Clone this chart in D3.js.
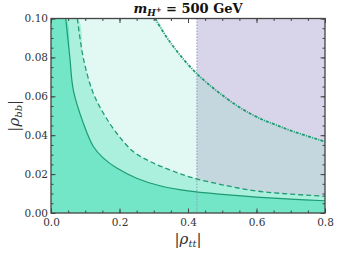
<!DOCTYPE html>
<html><head><meta charset="utf-8">
<script src="https://cdn.jsdelivr.net/npm/d3@7"></script>
<style>body{margin:0;background:#fff}svg{display:block}</style></head><body>
<svg id="c" width="339" height="254"></svg>
<script>
// data
const solidTT = [0.043, 0.055, 0.0652, 0.0944, 0.1236, 0.153, 0.192, 0.25, 0.318, 0.406, 0.5, 0.6, 0.7, 0.8];
const solidBB = [0.1, 0.08, 0.0632, 0.0462, 0.0342, 0.0282, 0.0231, 0.0179, 0.014, 0.0112, 0.0096, 0.0082, 0.0071, 0.0063];
const dashedTT = [0.077, 0.094, 0.1216, 0.153, 0.192, 0.24, 0.289, 0.347, 0.406, 0.5, 0.6, 0.7, 0.8];
const dashedBB = [0.1, 0.08, 0.0624, 0.0513, 0.041, 0.0316, 0.0265, 0.0222, 0.0185, 0.0145, 0.0113, 0.0097, 0.0086];
const dottedTT = [0.304, 0.347, 0.426, 0.542, 0.615, 0.654, 0.698, 0.8];
const dottedBB = [0.1, 0.088, 0.0716, 0.0553, 0.0482, 0.0455, 0.0425, 0.0367];
const cutTT = 0.426;
const xTicks = [0, 0.2, 0.4, 0.6, 0.8];
const yTicks = [0, 0.02, 0.04, 0.06, 0.08, 0.10];
const title = "500 GeV";

const svg = d3.select("#c");
const x = d3.scaleLinear().domain([0, 0.8]).range([51, 325]);
const y = d3.scaleLinear().domain([0, 0.1]).range([213, 18.5]);

svg.append("defs").append("clipPath").attr("id", "clip")
  .append("rect").attr("x", x(0)).attr("y", y(0.1)).attr("width", x(0.8) - x(0)).attr("height", y(0) - y(0.1));
svg.append("defs").append("clipPath").attr("id", "clipR")
  .append("rect").attr("x", x(cutTT)).attr("y", y(0.1)).attr("width", x(0.8) - x(cutTT)).attr("height", y(0) - y(0.1));

const pts = (a, b) => a.map((v, i) => [v, b[i]]);
const crv = d3.curveCatmullRom.alpha(0.5);
const area = d3.area().x(d => x(d[0])).y0(y(0)).y1(d => y(d[1])).curve(crv);
const line = d3.line().x(d => x(d[0])).y(d => y(d[1])).curve(crv);

const g = svg.append("g").attr("clip-path", "url(#clip)");
const dotPts = [[0, 0.1]].concat(pts(dottedTT, dottedBB));
g.append("path").attr("d", area(dotPts)).attr("fill", "#e2f9f3");
g.append("rect").attr("x", x(cutTT)).attr("y", y(0.1)).attr("width", x(0.8) - x(cutTT)).attr("height", y(0) - y(0.1)).attr("fill", "#d8d4e9");
g.append("g").attr("clip-path", "url(#clipR)").append("path").attr("d", area(dotPts)).attr("fill", "#c4d6de");
const dashPts = [[0, 0.1]].concat(pts(dashedTT, dashedBB));
g.append("path").attr("d", area(dashPts)).attr("fill", "#aaf0dc");
const solPts = [[0, 0.1]].concat(pts(solidTT, solidBB));
g.append("path").attr("d", area(solPts)).attr("fill", "#72e6c6");

g.append("line").attr("x1", x(cutTT)).attr("x2", x(cutTT)).attr("y1", y(0.1)).attr("y2", y(0))
  .attr("stroke", "#8c9cc4").attr("stroke-width", 1).attr("stroke-dasharray", "1.5,1.5");
g.append("path").attr("d", line(pts(solidTT, solidBB))).attr("fill", "none").attr("stroke", "#1e9b73").attr("stroke-width", 1.2);
g.append("path").attr("d", line(pts(dashedTT, dashedBB))).attr("fill", "none").attr("stroke", "#1e9b73").attr("stroke-width", 1.3).attr("stroke-dasharray", "5,3");
g.append("path").attr("d", line(pts(dottedTT, dottedBB))).attr("fill", "none").attr("stroke", "#1e9b73").attr("stroke-width", 1.8).attr("stroke-dasharray", "3,1.2,1,1.2");

// axes
const xMinor = d3.range(0, 0.8001, 0.05);
const yMinor = d3.range(0, 0.1001, 0.005);
function styleAxis(sel) {
  sel.select(".domain").remove();
  sel.selectAll(".tick line").attr("stroke", "#444").attr("stroke-width", 1);
  sel.selectAll("text").attr("font-family", "DejaVu Serif").attr("font-size", 10.5).attr("fill", "#333");
}
svg.append("g").attr("transform", `translate(0,${y(0)})`).call(d3.axisBottom(x).tickValues(xMinor).tickSize(-2.5).tickFormat("")).call(styleAxis);
svg.append("g").attr("transform", `translate(0,${y(0)})`).call(d3.axisBottom(x).tickValues(xTicks).tickSize(-4.5).tickPadding(6).tickFormat(d3.format(".1f"))).call(styleAxis);
svg.append("g").attr("transform", `translate(0,${y(0.1)})`).call(d3.axisTop(x).tickValues(xMinor).tickSize(-2.5).tickFormat("")).call(styleAxis);
svg.append("g").attr("transform", `translate(0,${y(0.1)})`).call(d3.axisTop(x).tickValues(xTicks).tickSize(-4.5).tickFormat("")).call(styleAxis);
svg.append("g").attr("transform", `translate(${x(0)},0)`).call(d3.axisLeft(y).tickValues(yMinor).tickSize(-2.5).tickFormat("")).call(styleAxis);
svg.append("g").attr("transform", `translate(${x(0)},0)`).call(d3.axisLeft(y).tickValues(yTicks).tickSize(-4.5).tickPadding(3).tickFormat(d3.format(".2f"))).call(styleAxis);
svg.append("g").attr("transform", `translate(${x(0.8)},0)`).call(d3.axisRight(y).tickValues(yMinor).tickSize(-2.5).tickFormat("")).call(styleAxis);
svg.append("g").attr("transform", `translate(${x(0.8)},0)`).call(d3.axisRight(y).tickValues(yTicks).tickSize(-4.5).tickFormat("")).call(styleAxis);

svg.append("rect").attr("x", x(0)).attr("y", y(0.1)).attr("width", x(0.8) - x(0)).attr("height", y(0) - y(0.1))
  .attr("fill", "none").attr("stroke", "#444").attr("stroke-width", 1.3);

// title
const t = svg.append("text").attr("x", (x(0) + x(0.8)) / 2).attr("y", 13).attr("text-anchor", "middle")
  .attr("font-family", "DejaVu Serif").attr("font-weight", "bold").attr("font-size", 13).attr("fill", "#111");
t.append("tspan").attr("font-style", "italic").text("m");
t.append("tspan").attr("font-style", "italic").attr("font-size", 9).attr("dy", 2.5).text("H");
t.append("tspan").attr("font-size", 7).attr("dy", -4).text("+");
t.append("tspan").attr("dy", 1.5).text(" = " + title);

// axis labels
const xl = svg.append("text").attr("x", (x(0) + x(0.8)) / 2).attr("y", 244).attr("text-anchor", "middle")
  .attr("font-family", "DejaVu Serif").attr("font-size", 15).attr("fill", "#333");
xl.append("tspan").text("|");
xl.append("tspan").attr("font-style", "italic").text("ρ");
xl.append("tspan").attr("font-style", "italic").attr("font-size", 10).attr("dy", 3).text("tt");
xl.append("tspan").attr("dy", -3).text("|");

const yl = svg.append("text").attr("transform", `translate(19,${(y(0) + y(0.1)) / 2}) rotate(-90)`).attr("text-anchor", "middle")
  .attr("font-family", "DejaVu Serif").attr("font-size", 15).attr("fill", "#333");
yl.append("tspan").text("|");
yl.append("tspan").attr("font-style", "italic").text("ρ");
yl.append("tspan").attr("font-style", "italic").attr("font-size", 10).attr("dy", 3).text("bb");
yl.append("tspan").attr("dy", -3).text("|");
</script>
</body></html>
